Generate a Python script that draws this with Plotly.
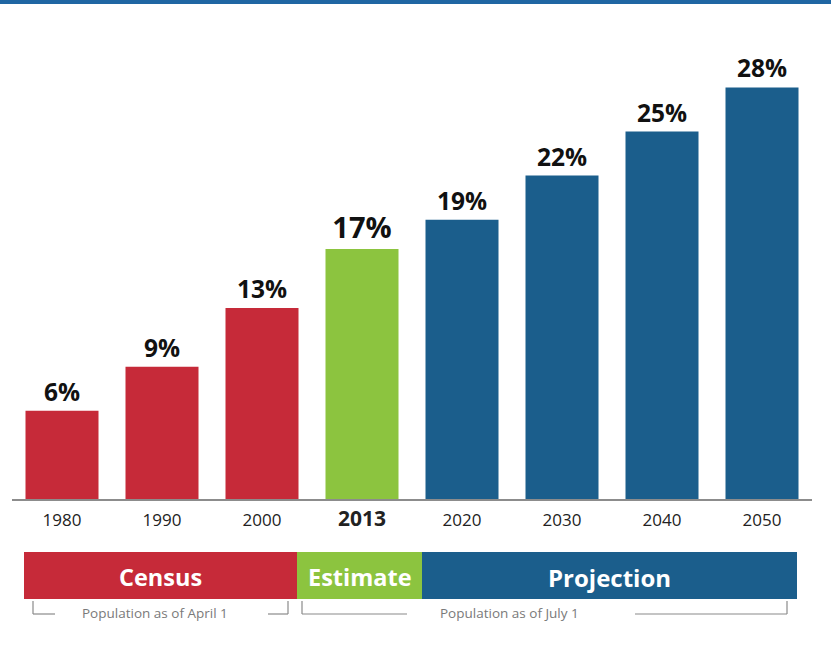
import plotly.graph_objects as go

years = ["1980", "1990", "2000", "2013", "2020", "2030", "2040", "2050"]
values = [6, 9, 13, 17, 19, 22, 25, 28]
kinds = ["Census", "Census", "Census", "Estimate", "Projection", "Projection", "Projection", "Projection"]
kind_colors = {"Census": "#c62a39", "Estimate": "#8cc43f", "Projection": "#1b5e8c"}
band_labels = ["Census", "Estimate", "Projection"]
band_notes = ["Population as of April 1", "Population as of July 1"]

W, H = 831, 654
L, R, T, B = 12, 19, 58, 155
PW, PH = W - L - R, H - T - B

def pxx(x):
    return (x - L) / PW

def pxy(y):
    return (H - B - y) / PH

colors = [kind_colors[k] for k in kinds]
label_sizes = [29 if k == "Estimate" else 24.5 for k in kinds]
ticktext = [f"<b><span style='font-size:21px'>{y}</span></b>" if k == "Estimate" else y
            for y, k in zip(years, kinds)]

fig = go.Figure()
fig.add_trace(go.Bar(
    x=years, y=values,
    marker=dict(color=colors, line=dict(width=0)),
    text=[f"<b>{v}%</b>" for v in values],
    textposition="outside",
    textfont=dict(family="Open Sans", size=label_sizes, color="#111111"),
    cliponaxis=False,
    hoverinfo="skip",
))

shapes = []
# top blue strip
shapes.append(dict(type="rect", xref="paper", yref="paper",
                   x0=pxx(0), x1=pxx(W), y0=pxy(0), y1=pxy(4),
                   fillcolor="#1f66a3", line=dict(width=0), layer="above"))
# bands
band_px = [(24, 297), (297, 422), (422, 797)]
band_sizes = [23.5, 23.5, 24]
annotations = []
for (x0, x1), lab, fs in zip(band_px, band_labels, band_sizes):
    shapes.append(dict(type="rect", xref="paper", yref="paper",
                       x0=pxx(x0), x1=pxx(x1), y0=pxy(552), y1=pxy(599),
                       fillcolor=kind_colors[lab], line=dict(width=0)))
    annotations.append(dict(xref="paper", yref="paper", x=pxx((x0 + x1) / 2), y=pxy(577),
                            text=f"<b>{lab}</b>", showarrow=False,
                            font=dict(family="Open Sans", size=fs, color="white"),
                            xanchor="center", yanchor="middle"))

# brackets
gray = "#8a8a8a"
def seg(xa, ya, xb, yb):
    shapes.append(dict(type="line", xref="paper", yref="paper",
                       x0=pxx(xa), y0=pxy(ya), x1=pxx(xb), y1=pxy(yb),
                       line=dict(color=gray, width=1.2)))

seg(33, 601, 33, 614); seg(33, 614, 55, 614)
seg(268, 614, 288, 614); seg(288, 614, 288, 601)
seg(302, 601, 302, 614); seg(302, 614, 407, 614)
seg(635, 614, 787, 614); seg(787, 614, 787, 601)

annotations.append(dict(xref="paper", yref="paper", x=pxx(155), y=pxy(613),
                        text=band_notes[0], showarrow=False,
                        font=dict(family="Open Sans", size=13.5, color="#7a7a7a"),
                        xanchor="center", yanchor="middle"))
annotations.append(dict(xref="paper", yref="paper", x=pxx(509), y=pxy(613),
                        text=band_notes[1], showarrow=False,
                        font=dict(family="Open Sans", size=13.5, color="#7a7a7a"),
                        xanchor="center", yanchor="middle"))

fig.update_layout(
    width=W, height=H,
    margin=dict(l=L, r=R, t=T, b=B, pad=0),
    paper_bgcolor="white", plot_bgcolor="white",
    bargap=0.27,
    showlegend=False,
    shapes=shapes,
    annotations=annotations,
    xaxis=dict(type="category", tickmode="array", tickvals=years, ticktext=ticktext,
               tickfont=dict(family="Open Sans", size=17, color="#222222"),
               showline=True, linecolor="#8c8c8c", linewidth=2,
               ticks="", showgrid=False, zeroline=False, fixedrange=True,
               ticklabelstandoff=5, range=[-0.5, 7.5]),
    yaxis=dict(range=[0, 30], visible=False, showgrid=False, zeroline=False, fixedrange=True),
)

fig.write_html("out.html", config={"displayModeBar": False})
